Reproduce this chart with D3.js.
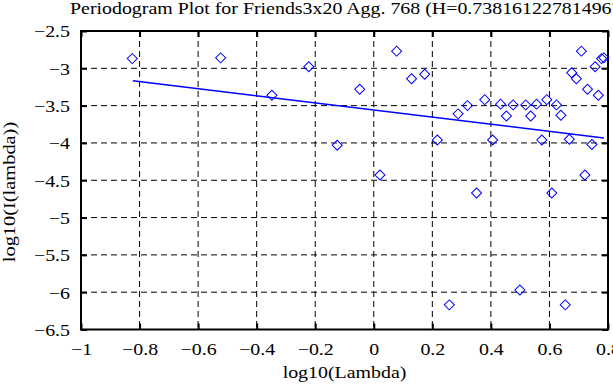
<!DOCTYPE html>
<html>
<head>
<meta charset="utf-8">
<script src="https://cdn.jsdelivr.net/npm/d3@7"></script>
<style>
body{margin:0;background:#fff;}
text{font-family:"Liberation Serif","Times New Roman",serif;fill:#000;}
</style>
</head>
<body>
<svg id="plot"></svg>
<script>
// log10 of frequency and log10 of periodogram value
var logLambda = [-0.825,-0.523,-0.348,-0.222,-0.125,-0.048,0.021,0.078,0.129,0.174,
 0.217,0.258,0.288,0.320,0.351,0.379,0.406,0.433,0.453,0.476,
 0.499,0.519,0.536,0.556,0.574,0.591,0.608,0.624,0.639,0.654,
 0.668,0.676,0.692,0.709,0.721,0.730,0.745,0.756,0.767,0.778,0.786]
var logI = [-2.87,-2.86,-3.36,-2.98,-4.03,-3.28,-4.43,-2.77,-3.14,-3.08,
 -3.96,-6.17,-3.61,-3.50,-4.67,-3.42,-3.96,-3.48,-3.64,-3.49,
 -5.97,-3.49,-3.64,-3.48,-3.96,-3.42,-4.67,-3.49,-3.63,-6.17,
 -3.95,-3.06,-3.14,-2.77,-4.43,-3.28,-4.02,-2.98,-3.36,-2.87,-2.86]

// least squares line end points
var fitX = [-0.823,0.786]
var fitY = [-3.166,-3.934]

var xTicks = [-1,-0.8,-0.6,-0.4,-0.2,0,0.2,0.4,0.6,0.8]
var yTicks = [-2.5,-3,-3.5,-4,-4.5,-5,-5.5,-6,-6.5]

var title = "Periodogram Plot for Friends3x20 Agg. 768 (H=0.738161227814967)"

var screen = {width:613,height:385}
var margin = {top:31, right:5, bottom:55.5, left:81}
var w = screen.width - margin.left - margin.right
var h = screen.height - margin.top - margin.bottom
// the reference font is drawn a bit wider than Liberation Serif
var stretch = 1.17

var svg = d3.select("#plot")
  .attr("width", screen.width)
  .attr("height", screen.height)

var xScale = d3.scaleLinear().domain([-1,0.8]).range([0,w])
var yScale = d3.scaleLinear().domain([-6.5,-2.5]).range([h,0])

var chart = svg.append("g")
  .attr("transform","translate(" + margin.left + "," + margin.top + ")")

// dashed grid
chart.append("g").selectAll("line")
  .data(xTicks.slice(1,-1))
  .enter().append("line")
  .attr("x1", function(d){return xScale(d)})
  .attr("x2", function(d){return xScale(d)})
  .attr("y1", 0).attr("y2", h)
  .attr("stroke","#000").attr("stroke-dasharray","6,4")

chart.append("g").selectAll("line")
  .data(yTicks.slice(1,-1))
  .enter().append("line")
  .attr("y1", function(d){return yScale(d)})
  .attr("y2", function(d){return yScale(d)})
  .attr("x1", 0).attr("x2", w)
  .attr("stroke","#000").attr("stroke-dasharray","6,4")

// axes with inward ticks on all four sides
var fmt = d3.format("")
var xAxis = d3.axisBottom(xScale).tickValues(xTicks).tickSizeInner(-6).tickSizeOuter(0).tickFormat(fmt)
var yAxis = d3.axisLeft(yScale).tickValues(yTicks).tickSizeInner(-6).tickSizeOuter(0).tickFormat(fmt)

var gx = chart.append("g").attr("transform","translate(0," + h + ")").call(xAxis)
var gy = chart.append("g").call(yAxis)
chart.append("g").call(d3.axisTop(xScale).tickValues(xTicks).tickSizeInner(-6).tickSizeOuter(0).tickFormat(""))
chart.append("g").attr("transform","translate(" + w + ",0)")
  .call(d3.axisRight(yScale).tickValues(yTicks).tickSizeInner(-6).tickSizeOuter(0).tickFormat(""))

chart.selectAll(".domain").remove()
chart.selectAll(".tick line").attr("stroke","#000").attr("stroke-width",2)
gx.selectAll("text").style("font-size","17px")
  .attr("y",13).attr("dy","0.71em")
  .attr("transform","scale(" + stretch + ",1)")
gy.selectAll("text").style("font-size","17px")
  .attr("x",-11/stretch).attr("dy","0.35em")
  .attr("transform","scale(" + stretch + ",1)")

chart.append("rect")
  .attr("width", w).attr("height", h)
  .attr("fill","none").attr("stroke","#000").attr("stroke-width",2)

// fit line
chart.append("line")
  .attr("x1", xScale(fitX[0])).attr("y1", yScale(fitY[0]))
  .attr("x2", xScale(fitX[1])).attr("y2", yScale(fitY[1]))
  .attr("stroke","#0000ff").attr("stroke-width",1.5)

// diamonds
var diamond = d3.symbol().type(d3.symbolSquare).size(50)
chart.selectAll(".pt")
  .data(logLambda)
  .enter().append("path")
  .attr("class","pt")
  .attr("d", diamond)
  .attr("transform", function(d,i){
    return "translate(" + xScale(d) + "," + yScale(logI[i]) + ") rotate(45)"})
  .attr("fill","none").attr("stroke","#0000ff").attr("stroke-width",1)

svg.append("text")
  .attr("transform","translate(70,14) scale(" + stretch + ",1)")
  .style("font-size","17px")
  .text(title)

svg.append("text")
  .attr("transform","translate(" + (margin.left + w/2) + ",378) scale(" + stretch + ",1)")
  .attr("text-anchor","middle")
  .style("font-size","17px")
  .text("log10(Lambda)")

svg.append("text")
  .attr("transform","translate(15,192) rotate(-90) scale(1.2,1)")
  .attr("text-anchor","middle")
  .style("font-size","17px")
  .text("log10(I(lambda))")
</script>
</body>
</html>
